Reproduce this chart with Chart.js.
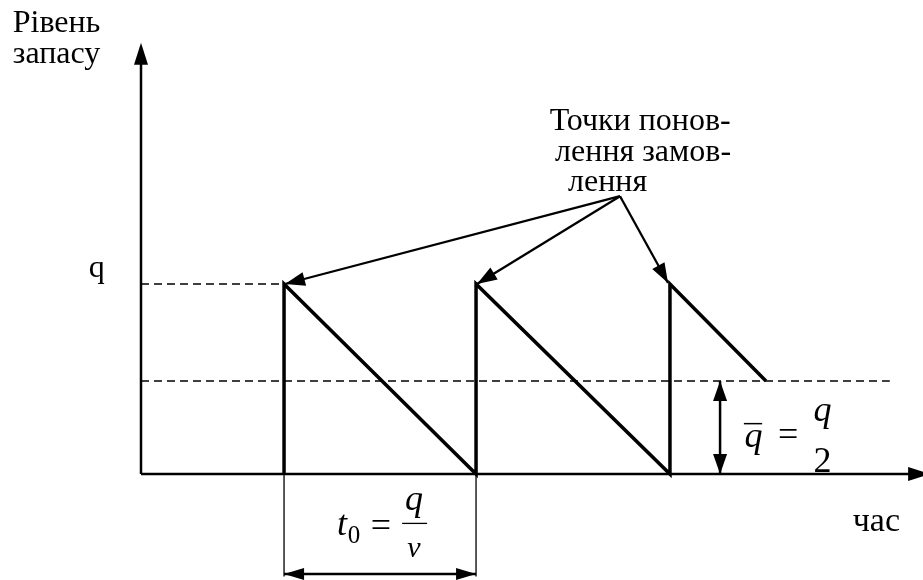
<!DOCTYPE html>
<html>
<head>
<meta charset="utf-8">
<script src="https://cdn.jsdelivr.net/npm/chart.js@4/dist/chart.umd.min.js"></script>
<style>
  body { margin: 0; background: #fff; }
  canvas { display: block; }
</style>
</head>
<body>
<canvas id="stock" width="923" height="580"></canvas>
<script>
// time in units of one cycle t0, level in units of q
const sawTime = [0.745, 0.745, 1.745, 1.745, 2.755, 2.755, 3.255];
const sawLevel = [0, 1, 0, 1, 0, 1, 0.49];
const orderLevel = 1;
const avgLevel = 0.49;
const axisTimeEnd = 4.11;
const axisLevelEnd = 2.27;
const cycleMarks = [0.745, 1.745];
const callFrom = { x: 2.495, y: 1.462 };
const callTargets = [{ x: 0.75, y: 1.0 }, { x: 1.75, y: 1.0 }, { x: 2.745, y: 1.005 }];
const dimLevel = -0.526;
const dimTime = 3.016;
const avgLineEnd = 3.9;

const context = document.getElementById('stock');

function line(pts, width, dash) {
    return {
        data: pts,
        showLine: true,
        borderColor: '#000',
        borderWidth: width,
        borderDash: dash || [],
        pointRadius: 0,
        fill: false,
        tension: 0
    };
}

let sawPts = sawTime.map((t, i) => ({ x: t, y: sawLevel[i] }));

let datasets = [
    line([{ x: 0, y: 0 }, { x: 0, y: axisLevelEnd - 0.05 }], 2.5),
    line([{ x: 0, y: 0 }, { x: axisTimeEnd - 0.05, y: 0 }], 2.5),
    line(sawPts, 3.5),
    line([{ x: 0, y: orderLevel }, { x: sawTime[1], y: orderLevel }], 1.5, [8, 5]),
    line([{ x: 0, y: avgLevel }, { x: avgLineEnd, y: avgLevel }], 1.5, [8, 5]),
];
cycleMarks.forEach(t => datasets.push(line([{ x: t, y: 0 }, { x: t, y: -0.54 }], 1.3)));
callTargets.forEach(p => datasets.push(line([callFrom, p], 2.3)));
datasets.push(line([{ x: cycleMarks[0], y: dimLevel }, { x: cycleMarks[1], y: dimLevel }], 2.5));
datasets.push(line([{ x: dimTime, y: avgLevel }, { x: dimTime, y: 0 }], 2.5));

function arrowHead(ctx, x0, y0, x1, y1, len, half) {
    const a = Math.atan2(y1 - y0, x1 - x0);
    ctx.beginPath();
    ctx.moveTo(x1, y1);
    ctx.lineTo(x1 - len * Math.cos(a) + half * Math.sin(a), y1 - len * Math.sin(a) - half * Math.cos(a));
    ctx.lineTo(x1 - len * Math.cos(a) - half * Math.sin(a), y1 - len * Math.sin(a) + half * Math.cos(a));
    ctx.closePath();
    ctx.fill();
}

const labels = {
    id: 'labels',
    afterDatasetsDraw(chart) {
        const ctx = chart.ctx;
        const xs = chart.scales.x, ys = chart.scales.y;
        const px = v => xs.getPixelForValue(v);
        const py = v => ys.getPixelForValue(v);
        ctx.save();
        ctx.fillStyle = '#000';
        ctx.strokeStyle = '#000';

        // axis arrows
        arrowHead(ctx, px(0), py(0), px(0), py(axisLevelEnd), 22, 7);
        arrowHead(ctx, px(0), py(0), px(axisTimeEnd), py(0), 22, 7);
        // callout arrows
        callTargets.forEach(p => arrowHead(ctx, px(callFrom.x), py(callFrom.y), px(p.x), py(p.y), 20, 7));
        // dimension arrows
        arrowHead(ctx, px(cycleMarks[1]), py(dimLevel), px(cycleMarks[0]), py(dimLevel), 20, 6);
        arrowHead(ctx, px(cycleMarks[0]), py(dimLevel), px(cycleMarks[1]), py(dimLevel), 20, 6);
        arrowHead(ctx, px(dimTime), py(0), px(dimTime), py(avgLevel), 20, 7);
        arrowHead(ctx, px(dimTime), py(avgLevel), px(dimTime), py(0), 20, 7);

        ctx.textBaseline = 'alphabetic';
        ctx.font = '32px "Liberation Serif"';
        ctx.textAlign = 'left';
        ctx.fillText('Рівень', px(-0.668), py(2.325));
        ctx.fillText('запасу', px(-0.668), py(2.163));
        ctx.textAlign = 'center';
        ctx.fillText('q', px(-0.23), py(1.035));
        ctx.fillText('Точки понов-', px(2.6), py(1.81));
        ctx.fillText('лення замов-', px(2.615), py(1.65));
        ctx.fillText('лення', px(2.43), py(1.49));
        ctx.font = '34px "Liberation Serif"';
        ctx.fillText('час', px(3.83), py(-0.3));

        // q bar = q / 2
        ctx.font = 'italic 36px "Liberation Serif"';
        ctx.fillText('q', px(3.19), py(0.14));
        ctx.lineWidth = 1.5;
        ctx.beginPath();
        ctx.moveTo(px(3.14), py(0.265));
        ctx.lineTo(px(3.235), py(0.265));
        ctx.stroke();
        ctx.font = '36px "Liberation Serif"';
        ctx.fillText('=', px(3.37), py(0.145));
        ctx.font = 'italic 36px "Liberation Serif"';
        ctx.fillText('q', px(3.55), py(0.28));
        ctx.font = '36px "Liberation Serif"';
        ctx.fillText('2', px(3.55), py(0.01));

        // t0 = q / v
        ctx.font = 'italic 36px "Liberation Serif"';
        ctx.fillText('t', px(1.047), py(-0.32));
        ctx.font = '25px "Liberation Serif"';
        ctx.fillText('0', px(1.11), py(-0.365));
        ctx.font = '36px "Liberation Serif"';
        ctx.fillText('=', px(1.25), py(-0.33));
        ctx.font = 'italic 36px "Liberation Serif"';
        ctx.fillText('q', px(1.422), py(-0.19));
        ctx.font = 'italic 30px "Liberation Serif"';
        ctx.fillText('v', px(1.422), py(-0.437));
        ctx.lineWidth = 1.3;
        ctx.beginPath();
        ctx.moveTo(px(1.36), py(-0.26));
        ctx.lineTo(px(1.49), py(-0.26));
        ctx.stroke();
        ctx.restore();
    }
};

const config = {
    type: 'scatter',
    data: { datasets: datasets },
    options: {
        responsive: false,
        animation: false,
        devicePixelRatio: 1,
        layout: { padding: 0 },
        events: [],
        plugins: { legend: { display: false }, tooltip: { enabled: false } },
        scales: {
            x: { type: 'linear', display: false, min: -141 / 192, max: 782 / 192 },
            y: { type: 'linear', display: false, min: -106 / 190, max: 474 / 190 }
        }
    },
    plugins: [labels]
};

const stockChart = new Chart(context, config);
</script>
</body>
</html>
